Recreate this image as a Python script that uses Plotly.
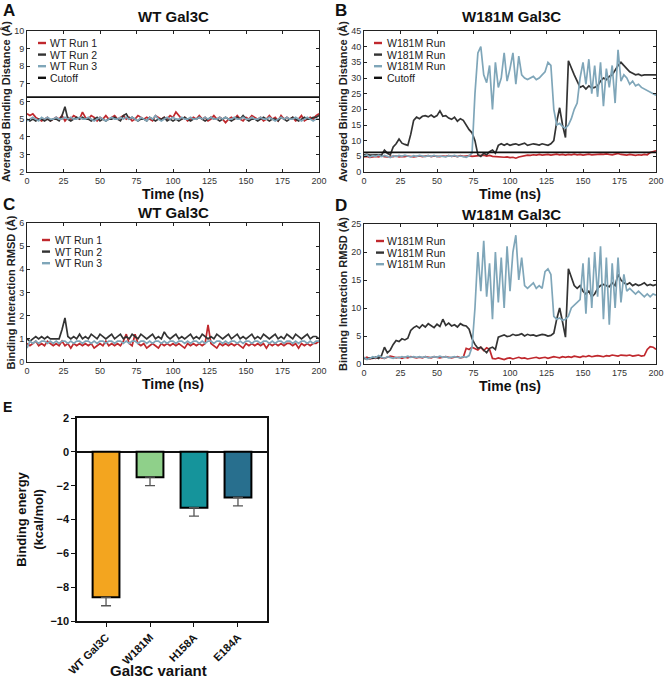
import plotly.graph_objects as go

W, H = 664, 678

# ---------------- data ----------------
TIME_NS = list(range(0, 201, 2))
CUTOFF = 6.25

A_WT_RUN1 = [5.3,5.2,5.3,5.1,5.0,4.9,5.0,5.1,4.9,5.0,
             5.1,5.0,5.2,4.9,5.1,5.0,5.2,5.1,5.0,5.4,
             5.1,5.0,5.2,5.1,4.9,5.1,5.0,5.2,5.0,5.1,
             5.2,5.0,5.1,5.2,5.0,5.1,4.9,5.0,5.2,5.1,
             5.0,5.1,5.0,4.9,5.2,5.1,5.0,5.1,5.0,5.2,
             5.1,5.4,5.2,5.0,5.1,4.9,5.0,5.1,5.0,5.2,
             5.0,5.1,4.9,5.0,5.2,5.0,5.1,5.0,4.8,5.0,
             5.1,5.0,5.2,5.0,4.9,5.1,5.0,5.2,5.1,5.0,
             5.1,4.9,5.0,5.2,5.0,5.1,4.9,5.2,5.0,5.1,
             5.0,5.1,4.9,5.0,5.2,4.9,5.0,5.1,5.0,5.2,
             5.3]
A_WT_RUN2 = [5.0,4.9,5.0,4.9,5.0,5.0,4.9,5.0,4.9,5.0,
             5.0,4.9,5.2,5.7,5.0,4.9,5.0,5.1,5.0,5.1,
             5.0,5.0,4.9,5.0,5.1,4.9,5.0,4.9,5.0,5.0,
             5.1,5.0,4.9,5.2,5.3,5.0,5.1,5.0,4.9,5.0,
             5.0,4.9,5.1,5.0,4.9,5.0,5.0,5.1,4.9,5.0,
             4.9,5.0,4.9,5.0,5.1,5.0,4.9,5.0,5.0,5.1,
             5.0,4.9,5.0,5.1,5.0,5.0,4.9,5.0,5.1,5.0,
             4.9,5.0,5.1,5.0,5.2,5.0,4.9,5.0,5.0,4.9,
             5.0,5.1,5.0,4.9,5.0,5.0,4.9,5.1,5.0,4.9,
             5.0,5.1,5.0,4.9,5.0,5.1,5.0,5.0,5.1,5.1,
             5.2]
A_WT_RUN3 = [4.9,5.0,5.1,5.0,4.9,5.1,5.0,5.1,5.0,5.0,
             5.1,5.0,5.0,5.1,5.0,5.1,5.0,5.0,5.1,5.0,
             5.0,5.1,5.0,4.9,5.0,5.1,5.0,4.9,5.0,5.1,
             5.0,5.0,5.1,5.0,5.1,5.0,5.1,5.0,4.9,5.1,
             5.0,4.9,5.1,5.0,5.2,5.0,4.9,5.0,5.1,5.0,
             5.1,5.0,5.0,5.1,5.0,5.0,5.1,5.0,5.0,5.1,
             5.0,5.1,5.0,5.1,5.0,5.0,5.1,5.0,5.1,5.0,
             5.0,5.1,5.0,5.0,5.1,5.0,5.0,5.1,5.0,5.0,
             5.1,5.0,5.0,5.1,5.0,4.9,5.0,5.1,5.0,5.1,
             5.0,5.0,5.1,5.0,4.9,5.0,5.1,5.0,4.9,5.0,
             5.0]

B_MUT_RUN1 = [4.8,5.0,4.7,4.9,5.0,4.8,5.1,4.9,4.8,5.0,
              4.9,5.1,4.8,5.0,4.9,5.1,5.0,4.8,5.0,5.1,
              4.9,5.0,5.2,4.9,5.1,5.0,4.9,5.1,5.0,5.2,
              5.0,5.1,4.9,5.2,5.0,5.1,5.2,5.0,5.1,5.3,
              5.2,5.4,5.1,5.3,5.0,4.9,4.8,4.9,4.7,4.8,
              4.6,4.7,4.4,4.8,5.0,5.2,5.4,5.3,5.5,5.4,
              5.6,5.4,5.5,5.6,5.4,5.5,5.7,5.5,5.6,5.4,
              5.6,5.5,5.7,5.5,5.6,5.4,5.6,5.7,5.5,5.6,
              5.5,5.7,5.6,5.8,5.6,5.5,5.7,5.9,5.6,5.5,
              5.4,5.6,5.5,5.3,5.5,5.4,5.6,5.5,6.2,6.6,
              6.8]
B_MUT_RUN2 = [5.5,5.6,5.4,5.5,5.6,5.5,5.4,7.0,6.0,5.5,
              8.0,9.0,10.5,9.2,8.8,8.5,12.0,16.5,17.5,17.0,
              17.8,18.0,17.6,18.2,17.5,18.0,19.5,17.8,18.0,17.2,
              16.8,17.5,16.2,17.0,16.5,15.0,13.5,12.5,10.0,5.5,
              5.0,6.0,5.5,6.5,7.0,6.0,8.5,9.0,8.5,9.0,
              8.5,8.8,9.0,8.6,8.8,9.2,8.5,8.7,9.0,8.8,
              8.6,9.0,8.8,8.5,9.0,10.0,16.0,20.5,15.0,11.0,
              35.5,33.0,31.0,29.0,27.0,27.5,26.5,27.5,26.8,27.0,
              27.5,29.0,30.0,29.5,30.5,31.0,32.5,34.0,35.0,34.0,
              33.0,32.0,31.5,31.0,31.2,30.8,31.0,31.0,30.8,31.0,
              31.0]
B_MUT_RUN3 = [5.0,5.5,4.8,5.2,5.0,5.4,4.9,5.3,5.0,4.6,
              5.2,4.9,5.3,5.0,5.4,5.1,4.8,5.2,5.0,5.3,
              5.0,4.9,5.2,5.0,5.3,4.9,5.1,5.0,4.8,5.2,
              5.0,5.3,4.9,5.1,5.0,4.7,5.2,6.0,25.0,38.0,
              40.0,31.0,28.5,34.0,20.0,35.0,27.0,30.0,38.0,29.0,
              33.0,38.0,28.0,37.0,31.0,30.0,29.5,30.0,30.5,29.5,
              30.0,31.0,32.0,35.0,34.0,20.0,15.0,15.5,14.5,14.0,
              15.0,17.0,20.0,22.0,30.0,35.0,28.0,36.0,25.0,34.0,
              24.0,35.0,21.0,33.0,27.0,34.0,22.0,39.0,29.0,31.0,
              30.0,28.0,29.0,27.5,28.0,27.0,26.5,26.0,25.5,25.0,
              24.5]

C_WT_RUN1 = [0.8,0.7,0.8,0.9,0.7,0.8,0.7,0.9,0.8,0.7,
             0.8,0.7,0.9,0.7,0.8,0.6,0.8,0.7,0.8,0.7,
             0.8,0.7,0.8,0.6,0.7,0.8,0.7,0.9,0.7,0.8,
             0.7,0.8,0.7,0.9,1.2,0.8,0.7,1.2,0.8,0.7,
             0.8,0.6,0.7,0.8,0.7,0.6,0.8,0.7,0.8,0.7,
             0.8,0.7,0.8,0.7,0.6,0.8,0.7,0.8,0.7,0.8,
             0.7,0.8,1.6,0.8,0.7,0.6,0.8,0.7,0.8,0.7,
             0.8,0.7,0.8,0.7,0.6,0.8,0.7,0.8,0.7,0.8,
             0.7,0.8,0.6,0.8,0.7,0.8,0.7,0.8,0.7,0.8,
             0.8,0.7,0.8,0.6,0.8,0.7,0.8,0.7,0.8,0.8,
             0.9]
C_WT_RUN2 = [1.0,0.9,1.0,1.1,1.0,1.1,1.0,1.1,1.0,1.0,
             1.0,1.0,1.4,1.9,1.1,1.0,1.1,1.0,1.2,1.0,
             1.1,1.0,1.2,1.1,1.0,1.2,1.1,1.0,1.1,1.2,
             1.0,1.1,1.2,1.0,1.1,1.0,1.2,1.1,1.0,1.2,
             1.1,1.0,1.1,1.2,1.0,1.1,1.0,1.3,1.1,1.0,
             1.1,1.2,1.0,1.1,1.0,1.1,1.2,1.0,1.1,1.0,
             1.2,1.1,1.0,1.1,1.0,1.2,1.1,1.0,1.1,1.2,
             1.0,1.1,1.2,1.0,1.1,1.0,1.1,1.2,1.0,1.1,
             1.0,1.2,1.1,1.0,1.1,1.2,1.0,1.1,1.0,1.2,
             1.1,1.0,1.2,1.1,1.0,1.1,1.2,1.0,1.1,1.1,
             1.0]
C_WT_RUN3 = [0.6,0.9,0.8,0.9,0.8,0.9,0.9,0.8,0.9,0.8,
             0.9,0.8,0.9,0.9,0.8,0.9,0.8,0.9,0.9,0.8,
             0.9,0.9,0.8,0.9,0.8,0.9,0.9,0.8,0.9,0.9,
             0.8,0.9,0.9,0.8,0.9,0.8,0.9,0.9,0.8,0.9,
             0.9,0.8,0.9,0.8,0.9,0.9,0.8,0.9,0.8,0.9,
             0.9,0.8,0.9,0.9,0.8,0.9,0.8,0.9,0.9,0.8,
             0.9,0.8,0.9,0.9,0.8,0.9,0.9,0.8,0.9,0.8,
             0.9,0.9,0.8,0.9,0.8,0.9,0.9,0.8,0.9,0.9,
             0.8,0.9,0.9,0.8,0.9,0.8,0.9,0.9,0.8,0.9,
             0.9,0.8,0.9,0.8,0.9,0.9,0.8,0.9,0.8,0.9,
             0.9]

D_MUT_RUN1 = [1.0,1.2,0.9,1.1,1.0,1.3,1.1,1.0,1.2,1.4,
              1.3,1.1,1.2,1.0,1.2,1.1,1.3,1.2,1.1,1.2,
              1.1,1.3,1.2,1.1,1.3,1.2,1.1,1.2,1.3,1.2,
              1.1,1.2,1.3,1.1,1.2,2.8,2.6,3.0,2.7,2.5,
              3.0,2.4,2.9,2.6,1.0,0.9,1.1,1.0,0.8,1.0,
              1.1,0.9,1.0,1.2,1.0,1.1,0.9,1.0,1.1,1.2,
              1.0,1.1,1.2,1.0,1.1,1.3,1.2,1.1,1.3,1.2,
              1.3,1.2,1.4,1.3,1.2,1.4,1.3,1.5,1.3,1.4,
              1.5,1.4,1.3,1.5,1.4,1.6,1.5,1.4,1.6,1.5,
              1.5,1.6,1.4,1.5,1.6,1.4,1.5,2.6,3.1,3.0,
              2.6]
D_MUT_RUN2 = [1.0,0.9,1.1,1.0,1.2,1.0,1.5,3.0,2.0,2.5,
              3.5,4.2,4.0,4.5,4.3,4.6,6.0,6.5,6.8,6.4,
              7.0,6.6,7.2,6.8,6.5,7.1,6.7,8.0,6.9,7.3,
              6.8,7.0,6.6,7.2,6.9,6.8,6.2,4.5,3.5,2.8,
              3.0,2.5,2.0,2.8,3.0,2.6,4.8,5.0,5.2,4.9,
              5.0,5.3,5.1,5.2,5.4,5.0,5.3,5.1,5.2,5.0,
              5.1,5.3,5.2,5.0,5.1,5.5,8.0,10.0,7.5,4.8,
              17.0,15.5,14.0,13.5,14.0,13.0,12.5,13.0,12.0,12.5,
              13.5,14.0,14.2,14.0,13.8,14.5,14.0,16.0,15.0,14.5,
              14.2,14.5,14.0,14.3,14.0,14.2,14.5,14.0,14.2,14.0,
              14.2]
D_MUT_RUN3 = [1.2,0.8,1.0,1.3,1.1,1.5,1.2,1.0,1.3,1.2,
              1.0,1.2,1.1,1.3,1.2,1.4,1.2,1.3,1.2,1.3,
              1.2,1.3,1.1,1.2,1.3,1.2,1.4,1.2,1.3,1.1,
              1.2,1.3,1.2,1.1,1.3,1.2,1.5,3.0,10.0,20.0,
              13.0,22.0,12.0,18.0,8.0,20.0,11.0,19.0,10.0,21.0,
              13.0,20.0,23.0,15.0,19.0,14.0,13.5,14.0,14.5,13.5,
              14.0,13.5,16.5,17.0,16.0,8.5,8.0,8.2,7.8,8.0,
              8.5,10.0,10.5,11.0,11.5,18.0,9.0,19.0,10.0,20.0,
              12.0,21.0,8.0,19.0,7.0,18.0,10.0,19.0,11.0,16.0,
              13.0,13.5,13.0,12.5,13.0,12.5,12.0,12.5,12.0,12.5,
              12.3]

E_VARIANTS = ["WT Gal3C", "W181M", "H158A", "E184A"]
E_ENERGY = [-8.6, -1.5, -3.3, -2.7]
E_ERR = [0.5, 0.5, 0.5, 0.5]

LEGEND_A = ["WT Run 1", "WT Run 2", "WT Run 3", "Cutoff"]
LEGEND_B = ["W181M Run", "W181M Run", "W181M Run", "Cutoff"]
LEGEND_C = ["WT Run 1", "WT Run 2", "WT Run 3"]
LEGEND_D = ["W181M Run", "W181M Run", "W181M Run"]

RED, DARK, BLUE, BLACK = "#C0282D", "#333333", "#7FA6B9", "#111111"
BAR_COLORS = ["#F3A51F", "#8FD08A", "#15949B", "#286F8E"]

# ---------------- helpers ----------------
FONT = "Arial, Liberation Sans, sans-serif"


def px_x(p):
    return p / W


def px_y(p):
    return 1 - p / H


fig = go.Figure()


def add_line(x, y, color, name, ax):
    fig.add_trace(go.Scatter(
        x=x, y=y, mode="lines", name=name,
        line=dict(color=color, width=1.7),
        xaxis="x" + ax, yaxis="y" + ax,
        showlegend=False, hoverinfo="skip"))


# Panel A
add_line(TIME_NS, A_WT_RUN1, RED, LEGEND_A[0], "")
add_line(TIME_NS, A_WT_RUN2, DARK, LEGEND_A[1], "")
add_line(TIME_NS, A_WT_RUN3, BLUE, LEGEND_A[2], "")
add_line([TIME_NS[0], TIME_NS[-1]], [CUTOFF, CUTOFF], BLACK, LEGEND_A[3], "")
# Panel B
add_line(TIME_NS, B_MUT_RUN1, RED, LEGEND_B[0], "2")
add_line(TIME_NS, B_MUT_RUN2, DARK, LEGEND_B[1], "2")
add_line(TIME_NS, B_MUT_RUN3, BLUE, LEGEND_B[2], "2")
add_line([TIME_NS[0], TIME_NS[-1]], [CUTOFF, CUTOFF], BLACK, LEGEND_B[3], "2")
# Panel C
add_line(TIME_NS, C_WT_RUN1, RED, LEGEND_C[0], "3")
add_line(TIME_NS, C_WT_RUN2, DARK, LEGEND_C[1], "3")
add_line(TIME_NS, C_WT_RUN3, BLUE, LEGEND_C[2], "3")
# Panel D
add_line(TIME_NS, D_MUT_RUN1, RED, LEGEND_D[0], "4")
add_line(TIME_NS, D_MUT_RUN2, DARK, LEGEND_D[1], "4")
add_line(TIME_NS, D_MUT_RUN3, BLUE, LEGEND_D[2], "4")

# Panel E
fig.add_trace(go.Bar(
    x=E_VARIANTS, y=E_ENERGY, xaxis="x5", yaxis="y5", showlegend=False,
    marker=dict(color=BAR_COLORS, line=dict(color="#000000", width=2)),
    error_y=dict(type="data", symmetric=False, array=[0] * len(E_ERR),
                 arrayminus=E_ERR, color="#555555", thickness=1.3, width=5),
    hoverinfo="skip"))

tick_font = dict(family=FONT, size=9, color="#333333")


def line_axes(domx, domy, yr, dtick_y, ytitle):
    xa = dict(domain=domx, range=[0, 200], dtick=25, showgrid=False, zeroline=False,
              showline=True, linecolor="#222222", linewidth=1, mirror="allticks",
              ticks="inside", ticklen=3, tickcolor="#222222", tickfont=tick_font,
              ticklabelstandoff=0, automargin=False,
              title=dict(text="<b>Time (ns)</b>", font=dict(family=FONT, size=14, color="#111111"),
                         standoff=2))
    ya = dict(domain=domy, range=yr, dtick=dtick_y, showgrid=False, zeroline=False,
              showline=True, linecolor="#222222", linewidth=1, mirror="allticks",
              ticks="inside", ticklen=3, tickcolor="#222222", tickfont=tick_font,
              ticklabelstandoff=0, automargin=False,
              title=dict(text="<b>" + ytitle + "</b>", font=dict(family=FONT, size=11, color="#222222"),
                         standoff=1))
    return xa, ya


xa1, ya1 = line_axes([px_x(27), px_x(319)], [px_y(172), px_y(31)], [2, 10], 1,
                     "Averaged Binding Distance (Å)")
xa2, ya2 = line_axes([px_x(364), px_x(656)], [px_y(172), px_y(31)], [0, 45], 5,
                     "Averaged Binding Distance (Å)")
xa3, ya3 = line_axes([px_x(27), px_x(319)], [px_y(362), px_y(223)], [0, 6], 1,
                     "Binding Interaction RMSD (Å)")
xa4, ya4 = line_axes([px_x(364), px_x(656)], [px_y(364), px_y(224)], [0, 25], 5,
                     "Binding Interaction RMSD (Å)")

bold_tick = dict(family=FONT, size=11, color="#111111")
xa5 = dict(domain=[px_x(77), px_x(267)], range=[-0.66, 3.66], showgrid=False, zeroline=False,
           showline=True, linecolor="#111111", linewidth=1.5, mirror=True,
           ticks="outside", ticklen=4, tickcolor="#111111", tickangle=-45,
           tickfont=bold_tick, tickprefix="<b>", ticksuffix="</b>", automargin=False)
ya5 = dict(domain=[px_y(621), px_y(418)], range=[-10, 2], dtick=2, showgrid=False,
           zeroline=True, zerolinecolor="#111111", zerolinewidth=1.5,
           showline=True, linecolor="#111111", linewidth=1.5, mirror=True,
           ticks="outside", ticklen=4, tickcolor="#111111", automargin=False,
           tickfont=bold_tick, tickprefix="<b>", ticksuffix="</b>",
           title=dict(text="<b>Binding energy<br>(kcal/mol)</b>",
                      font=dict(family=FONT, size=13, color="#111111"), standoff=4))

xa2.update(anchor="y2")
ya2.update(anchor="x2")
xa3.update(anchor="y3")
ya3.update(anchor="x3")
xa4.update(anchor="y4")
ya4.update(anchor="x4")
xa5.update(anchor="y5")
ya5.update(anchor="x5")

annotations = []
shapes = []


def label(text, x, y, size, xanchor="center", color="#111111"):
    annotations.append(dict(text=text, x=px_x(x), y=px_y(y), xref="paper", yref="paper",
                            showarrow=False, xanchor=xanchor, yanchor="middle",
                            borderpad=0, font=dict(family=FONT, size=size, color=color)))


def legend_block(names, colors, x_line, x_text, y0, dy):
    for i, (nm, col) in enumerate(zip(names, colors)):
        yy = y0 + i * dy
        shapes.append(dict(type="line", xref="paper", yref="paper",
                           x0=px_x(x_line), x1=px_x(x_line + 8), y0=px_y(yy), y1=px_y(yy),
                           line=dict(color=col, width=2.4)))
        label(nm, x_text, yy, 10.5, "left", "#222222")


legend_block(LEGEND_A, [RED, DARK, BLUE, BLACK], 38, 49, 43, 11.6)
legend_block(LEGEND_B, [RED, DARK, BLUE, BLACK], 374, 386, 43, 11.6)
legend_block(LEGEND_C, [RED, DARK, BLUE], 42, 54, 240, 11.6)
legend_block(LEGEND_D, [RED, DARK, BLUE], 376, 386, 241, 11.6)

label("<b>WT Gal3C</b>", 173, 17, 15)
label("<b>W181M Gal3C</b>", 511, 17, 15)
label("<b>WT Gal3C</b>", 173, 213, 15)
label("<b>W181M Gal3C</b>", 511, 214, 15)
label("<b>A</b>", 2, 11, 17, "left")
label("<b>B</b>", 334, 11, 17, "left")
label("<b>C</b>", 2, 204, 17, "left")
label("<b>D</b>", 334, 205, 17, "left")
label("<b>E</b>", 2, 407, 14, "left")
label("<b>Gal3C variant</b>", 158, 670, 15)

fig.update_layout(
    width=W, height=H, margin=dict(l=0, r=0, t=0, b=0, autoexpand=False),
    paper_bgcolor="white", plot_bgcolor="white",
    font=dict(family=FONT),
    showlegend=False,
    xaxis=xa1, yaxis=ya1, xaxis2=xa2, yaxis2=ya2, xaxis3=xa3, yaxis3=ya3,
    xaxis4=xa4, yaxis4=ya4, xaxis5=xa5, yaxis5=ya5,
    bargap=0.39,
    annotations=annotations,
    shapes=shapes,
)

fig.write_html(
    "out.html",
    config={"displayModeBar": False},
    post_script="document.body.style.margin='0';document.body.style.overflow='hidden';",
)
